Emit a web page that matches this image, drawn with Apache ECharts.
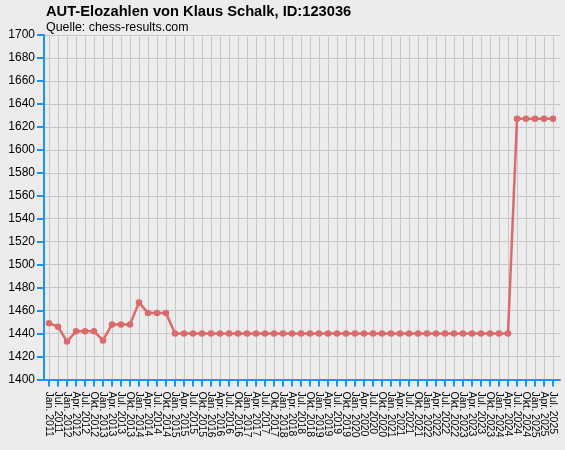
<!DOCTYPE html>
<html>
<head>
<meta charset="utf-8">
<script src="https://cdn.jsdelivr.net/npm/echarts@6/dist/echarts.min.js"></script>
<style>
html,body{margin:0;padding:0;background:#ececec;}
#chart{width:565px;height:450px;}
</style>
</head>
<body>
<div id="chart"></div>
<script>
var titleText = 'AUT-Elozahlen von Klaus Schalk, ID:123036';
var subtitleText = 'Quelle: chess-results.com';
var categories = [
  'Jan. 2011','Jul. 2011',
  'Jan. 2012','Apr. 2012','Jul. 2012','Okt. 2012',
  'Jan. 2013','Apr. 2013','Jul. 2013','Okt. 2013',
  'Jan. 2014','Apr. 2014','Jul. 2014','Okt. 2014',
  'Jan. 2015','Apr. 2015','Jul. 2015','Okt. 2015',
  'Jan. 2016','Apr. 2016','Jul. 2016','Okt. 2016',
  'Jan. 2017','Apr. 2017','Jul. 2017','Okt. 2017',
  'Jan. 2018','Apr. 2018','Jul. 2018','Okt. 2018',
  'Jan. 2019','Apr. 2019','Jul. 2019','Okt. 2019',
  'Jan. 2020','Apr. 2020','Jul. 2020','Okt. 2020',
  'Jan. 2021','Apr. 2021','Jul. 2021','Okt. 2021',
  'Jan. 2022','Apr. 2022','Jul. 2022','Okt. 2022',
  'Jan. 2023','Apr. 2023','Jul. 2023','Okt. 2023',
  'Jan. 2024','Apr. 2024','Jul. 2024','Okt. 2024',
  'Jan. 2025','Apr. 2025','Jul. 2025'
];
var elo = [
  1449, 1446,
  1433, 1442, 1442, 1442,
  1434, 1448, 1448, 1448,
  1467, 1458, 1458, 1458,
  1440, 1440, 1440, 1440,
  1440, 1440, 1440, 1440,
  1440, 1440, 1440, 1440,
  1440, 1440, 1440, 1440,
  1440, 1440, 1440, 1440,
  1440, 1440, 1440, 1440,
  1440, 1440, 1440, 1440,
  1440, 1440, 1440, 1440,
  1440, 1440, 1440, 1440,
  1440, 1440, 1627, 1627,
  1627, 1627, 1627
];
var yMin = 1400, yMax = 1700, yStep = 20;

var blue = '#1e90ff';
var grid = '#c8c8c8';
var lineColor = '#dc6a6a';
var font = '"Liberation Sans", Arial, sans-serif';

var chart = echarts.init(document.getElementById('chart'), null, {renderer: 'canvas'});
chart.setOption({
  backgroundColor: '#ececec',
  animation: false,
  title: [
    {text: titleText, left: 46, top: 4, padding: 0,
     textStyle: {fontFamily: font, fontSize: 14.7, fontWeight: 'bold', color: '#000'}},
    {text: subtitleText, left: 46, top: 22, padding: 0,
     textStyle: {fontFamily: font, fontSize: 12.4, fontWeight: 'normal', color: '#000'}}
  ],
  grid: [
    {left: 44, right: 5, top: 35, bottom: 70.5, containLabel: false},
    {left: 49, right: 12, top: 35, bottom: 70.5, containLabel: false}
  ],
  xAxis: [
    {type: 'value', gridIndex: 0, min: 0, max: 1,
     axisLine: {show: true, lineStyle: {color: blue, width: 2}},
     axisTick: {show: false}, axisLabel: {show: false}, splitLine: {show: false}},
    {type: 'category', gridIndex: 1, data: categories, boundaryGap: false,
     axisLine: {show: false},
     axisTick: {show: true, length: 7, lineStyle: {color: blue, width: 2}},
     axisLabel: {show: true, interval: 0, rotate: -90, margin: 12,
       fontFamily: font, fontSize: 10.5, color: '#000'},
     splitLine: {show: true, interval: 0, lineStyle: {color: grid, width: 1}}}
  ],
  yAxis: [
    {type: 'value', gridIndex: 0, min: yMin, max: yMax, interval: yStep,
     axisLine: {show: true, lineStyle: {color: blue, width: 2}},
     axisTick: {show: true, length: 7, lineStyle: {color: blue, width: 2}},
     axisLabel: {show: true, margin: 9, fontFamily: font, fontSize: 12, color: '#000',
       formatter: function (v) { return String(v); }},
     splitLine: {show: true, lineStyle: {color: grid, width: 1}}},
    {type: 'value', gridIndex: 1, min: yMin, max: yMax, interval: yStep, show: false,
     splitLine: {show: false}}
  ],
  series: [
    {type: 'line', xAxisIndex: 1, yAxisIndex: 1, data: elo,
     symbol: 'circle', symbolSize: 6.5,
     lineStyle: {color: lineColor, width: 2.5},
     itemStyle: {color: lineColor}}
  ]
});
</script>
</body>
</html>
